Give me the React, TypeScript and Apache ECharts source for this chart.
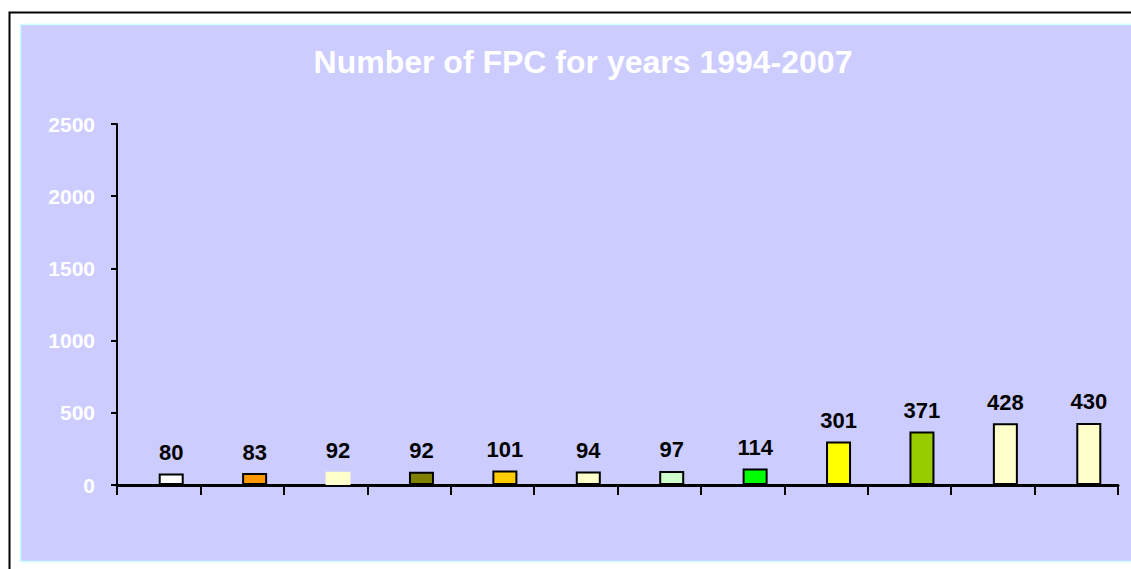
import React, { useEffect, useRef } from "react";
import * as echarts from "echarts";

const categories = ["1", "2", "3", "4", "5", "6", "7", "8", "9", "10", "11", "12"];
const values = [80, 83, 92, 92, 101, 94, 97, 114, 301, 371, 428, 430];
const barColors = [
  "#FFFFFF", "#FF9900", "#FFFFCC", "#808000", "#FFCC00", "#FFFFCC",
  "#CCFFCC", "#00FF00", "#FFFF00", "#99CC00", "#FFFFCC", "#FFFFCC",
];
const barBorders = [
  "#000000", "#000000", "#FFFFCC", "#000000", "#000000", "#000000",
  "#000000", "#000000", "#000000", "#000000", "#000000", "#000000",
];
const emptySlot: (number | null)[] = categories.map(() => null);
const yMin = 0;
const yMax = 2500;
const yInterval = 500;
const title = "Number of FPC for years 1994-2007";

export default function App() {
  const ref = useRef<HTMLDivElement>(null);
  useEffect(() => {
    if (!ref.current) return;
    const chart = echarts.init(ref.current, null, { renderer: "svg" });
    const font = "'Liberation Sans', Arial, sans-serif";
    chart.setOption({
      animation: false,
      backgroundColor: "#FFFFFF",
      graphic: [
        {
          type: "rect",
          z: -10,
          shape: { x: 9.5, y: 12.5, width: 1140, height: 600 },
          style: { fill: "#FFFFFF", stroke: "#000000", lineWidth: 2 },
        },
        {
          type: "rect",
          z: -9,
          shape: { x: 20.5, y: 24.5, width: 1130, height: 537 },
          style: { fill: "#CCCCFF", stroke: "#CCFFFF", lineWidth: 1.5 },
        },
      ],
      title: {
        text: title,
        left: 578,
        textAlign: "center",
        top: 41,
        textStyle: {
          color: "#FFFFFF",
          fontFamily: font,
          fontWeight: "bold",
          fontSize: 32,
        },
      },
      grid: { left: 117, right: 13, top: 124, bottom: 84 },
      xAxis: {
        type: "category",
        data: categories,
        boundaryGap: true,
        axisLine: { lineStyle: { color: "#000000", width: 3 } },
        axisTick: { show: true, length: 10, lineStyle: { color: "#000000", width: 2 } },
        axisLabel: { show: false },
        splitLine: { show: false },
      },
      yAxis: {
        type: "value",
        min: yMin,
        max: yMax,
        interval: yInterval,
        axisLine: { show: true, lineStyle: { color: "#000000", width: 2 } },
        axisTick: { show: true, length: 6, lineStyle: { color: "#000000", width: 2 } },
        axisLabel: {
          color: "#FFFFFF",
          fontFamily: font,
          fontWeight: "bold",
          fontSize: 21,
          margin: 22,
          formatter: (v: number) => String(v),
        },
        splitLine: { show: false },
      },
      series: [
        {
          type: "bar",
          barWidth: 25,
          barGap: "0%",
          data: emptySlot,
          silent: true,
        },
        {
          type: "bar",
          barWidth: 25,
          barGap: "0%",
          data: values.map((v, i) => ({
            value: v,
            itemStyle: {
              color: barColors[i],
              borderColor: barBorders[i],
              borderWidth: 2,
            },
          })),
          label: {
            show: true,
            position: "top",
            distance: 10,
            color: "#000000",
            fontFamily: font,
            fontWeight: "bold",
            fontSize: 22,
          },
        },
      ],
    });
    return () => chart.dispose();
  }, []);
  return (
    <div
      ref={ref}
      style={{ position: "fixed", left: 0, top: 0, width: 1131, height: 569 }}
    />
  );
}
